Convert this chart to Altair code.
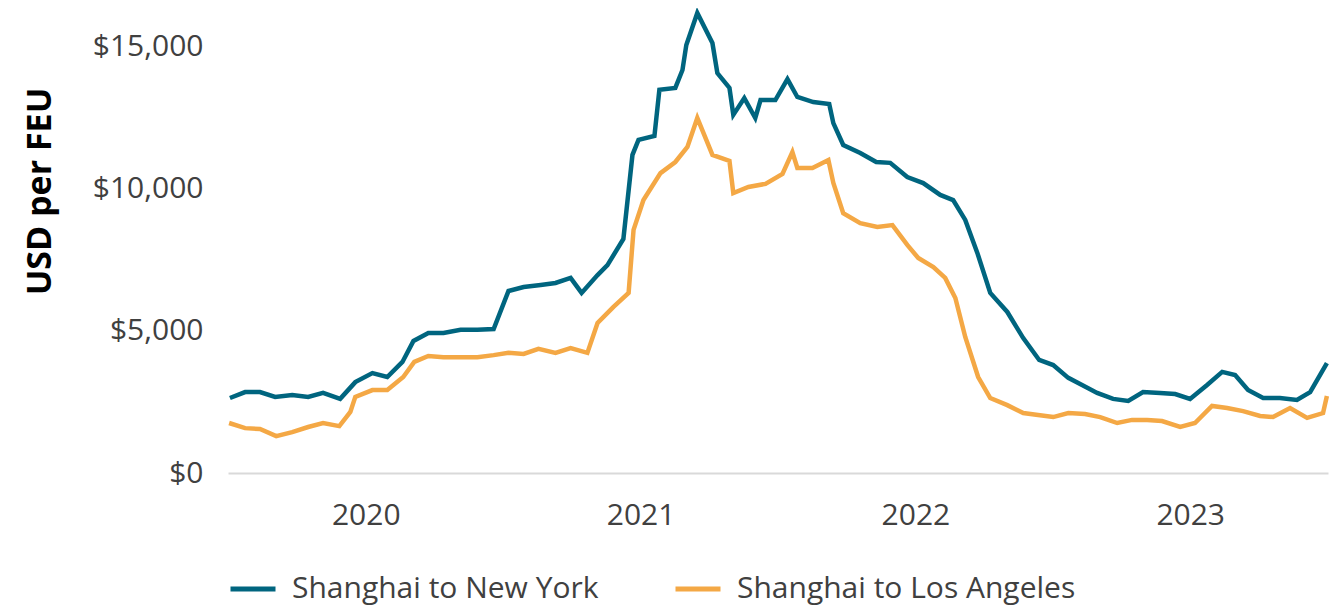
import altair as alt
import pandas as pd

# Shanghai to New York (decimal year, USD per FEU)
ny_t = [2020.007, 2020.062, 2020.116, 2020.171, 2020.233, 2020.291, 2020.345, 2020.407,
        2020.462, 2020.524, 2020.578, 2020.633, 2020.673, 2020.727, 2020.782, 2020.844,
        2020.905, 2020.964, 2021.018, 2021.073, 2021.135, 2021.189, 2021.244, 2021.284,
        2021.342, 2021.378, 2021.436, 2021.469, 2021.491, 2021.549, 2021.567, 2021.625,
        2021.651, 2021.665, 2021.705, 2021.760, 2021.778, 2021.822, 2021.836, 2021.876,
        2021.916, 2021.935, 2021.989, 2022.033, 2022.069, 2022.127, 2022.185, 2022.200,
        2022.236, 2022.298, 2022.356, 2022.407, 2022.469, 2022.527, 2022.589, 2022.636,
        2022.680, 2022.724, 2022.771, 2022.833, 2022.891, 2022.949, 2023.000, 2023.055,
        2023.105, 2023.160, 2023.218, 2023.273, 2023.327, 2023.389, 2023.444, 2023.498,
        2023.560, 2023.615, 2023.662, 2023.709, 2023.764, 2023.825, 2023.887, 2023.935,
        2023.996]
ny_v = [2640, 2850, 2850, 2680, 2750, 2680, 2820, 2610,
        3200, 3520, 3380, 3910, 4650, 4930, 4930, 5040,
        5040, 5070, 6410, 6550, 6620, 6690, 6870, 6340,
        6970, 7320, 8240, 11200, 11730, 11870, 13490, 13560,
        14190, 15070, 16200, 15140, 14080, 13560, 12610, 13200,
        12500, 13130, 13130, 13870, 13240, 13060, 12990, 12320,
        11550, 11270, 10950, 10920, 10420, 10210, 9790, 9610,
        8910, 7750, 6340, 5670, 4750, 3980, 3800, 3350,
        3100, 2820, 2610, 2540, 2850, 2820, 2780, 2610,
        3100, 3560, 3450, 2920, 2640, 2640, 2570, 2850,
        3870]

# Shanghai to Los Angeles (decimal year, USD per FEU)
la_t = [2020.004, 2020.062, 2020.116, 2020.175, 2020.233, 2020.291, 2020.345, 2020.404,
        2020.444, 2020.462, 2020.524, 2020.578, 2020.636, 2020.676, 2020.727, 2020.782,
        2020.844, 2020.905, 2020.964, 2021.018, 2021.073, 2021.127, 2021.189, 2021.244,
        2021.305, 2021.342, 2021.400, 2021.455, 2021.473, 2021.509, 2021.571, 2021.625,
        2021.669, 2021.705, 2021.760, 2021.822, 2021.836, 2021.891, 2021.953, 2022.015,
        2022.051, 2022.069, 2022.124, 2022.182, 2022.200, 2022.236, 2022.298, 2022.360,
        2022.415, 2022.469, 2022.509, 2022.564, 2022.607, 2022.644, 2022.680, 2022.727,
        2022.771, 2022.833, 2022.891, 2022.945, 2023.000, 2023.055, 2023.116, 2023.171,
        2023.233, 2023.287, 2023.342, 2023.396, 2023.462, 2023.516, 2023.578, 2023.633,
        2023.691, 2023.753, 2023.800, 2023.862, 2023.924, 2023.982, 2023.996]
la_v = [1760, 1580, 1550, 1300, 1440, 1620, 1760, 1650,
        2150, 2680, 2920, 2920, 3380, 3910, 4120, 4080,
        4080, 4080, 4150, 4230, 4190, 4370, 4230, 4400,
        4230, 5280, 5850, 6340, 8560, 9610, 10560, 10950,
        11480, 12500, 11200, 10990, 9860, 10070, 10180, 10530,
        11300, 10740, 10740, 11020, 10210, 9150, 8800, 8660,
        8730, 8030, 7570, 7250, 6870, 6160, 4790, 3380,
        2640, 2390, 2110, 2040, 1970, 2110, 2080, 1970,
        1760, 1870, 1870, 1830, 1620, 1760, 2360, 2290,
        2180, 2010, 1970, 2290, 1940, 2110, 2710]

series_names = ["Shanghai to New York", "Shanghai to Los Angeles"]
series_colors = ["#00657f", "#f4a845"]
year_labels = [2020, 2021, 2022, 2023]
y_ticks = [0, 5000, 10000, 15000]


def dec_to_date(d):
    y = int(d)
    start = pd.Timestamp(y, 1, 1)
    end = pd.Timestamp(y + 1, 1, 1)
    return start + (end - start) * (d - y)


rows = []
for name, ts, vs in [(series_names[0], ny_t, ny_v), (series_names[1], la_t, la_v)]:
    for t, v in zip(ts, vs):
        rows.append({"date": dec_to_date(t), "value": v, "route": name})
df = pd.DataFrame(rows)

tick_dates = [pd.Timestamp(y, 7, 2).isoformat() for y in year_labels]

FONT = "Open Sans"

chart = alt.Chart(df).mark_line(strokeWidth=4.5, strokeJoin="miter", strokeMiterLimit=3).encode(
    x=alt.X(
        "date:T",
        scale=alt.Scale(domain=["2020-01-01", "2024-01-01"], nice=False),
        axis=alt.Axis(
            values=tick_dates,
            format="%Y",
            title=None,
            grid=False,
            ticks=False,
            domainColor="#d9d9d9",
            domainWidth=2,
            labelFont=FONT,
            labelFontSize=30,
            labelColor="#404040",
            labelPadding=27,
        ),
    ),
    y=alt.Y(
        "value:Q",
        scale=alt.Scale(domain=[0, 16373], nice=False),
        axis=alt.Axis(
            values=y_ticks,
            format="$,.0f",
            title="USD per FEU",
            titleFont=FONT,
            titleFontSize=34,
            titleFontWeight="bold",
            titleColor="#000000",
            titleAngle=-90,
            titleX=-188,
            titleY=183,
            titleAlign="center",
            titleBaseline="middle",
            grid=False,
            ticks=False,
            domain=False,
            labelFont=FONT,
            labelFontSize=30,
            labelColor="#404040",
            labelPadding=25,
        ),
    ),
    color=alt.Color(
        "route:N",
        scale=alt.Scale(domain=series_names, range=series_colors),
        sort=series_names,
        legend=alt.Legend(
            orient="none",
            legendX=0,
            legendY=556,
            direction="horizontal",
            title=None,
            symbolType="stroke",
            symbolSize=2025,
            symbolStrokeWidth=5,
            labelFont=FONT,
            labelFontSize=30,
            labelColor="#404040",
            labelLimit=600,
            labelOffset=14,
            columnPadding=66,
            padding=0,
        ),
    ),
).properties(
    width=1100,
    height=465,
    autosize=alt.AutoSizeParams(type="none"),
    padding={"left": 220, "top": 0, "right": 7, "bottom": 134},
).configure_view(stroke=None)

chart.save("out.html", embed_options={"renderer": "svg", "actions": False})
